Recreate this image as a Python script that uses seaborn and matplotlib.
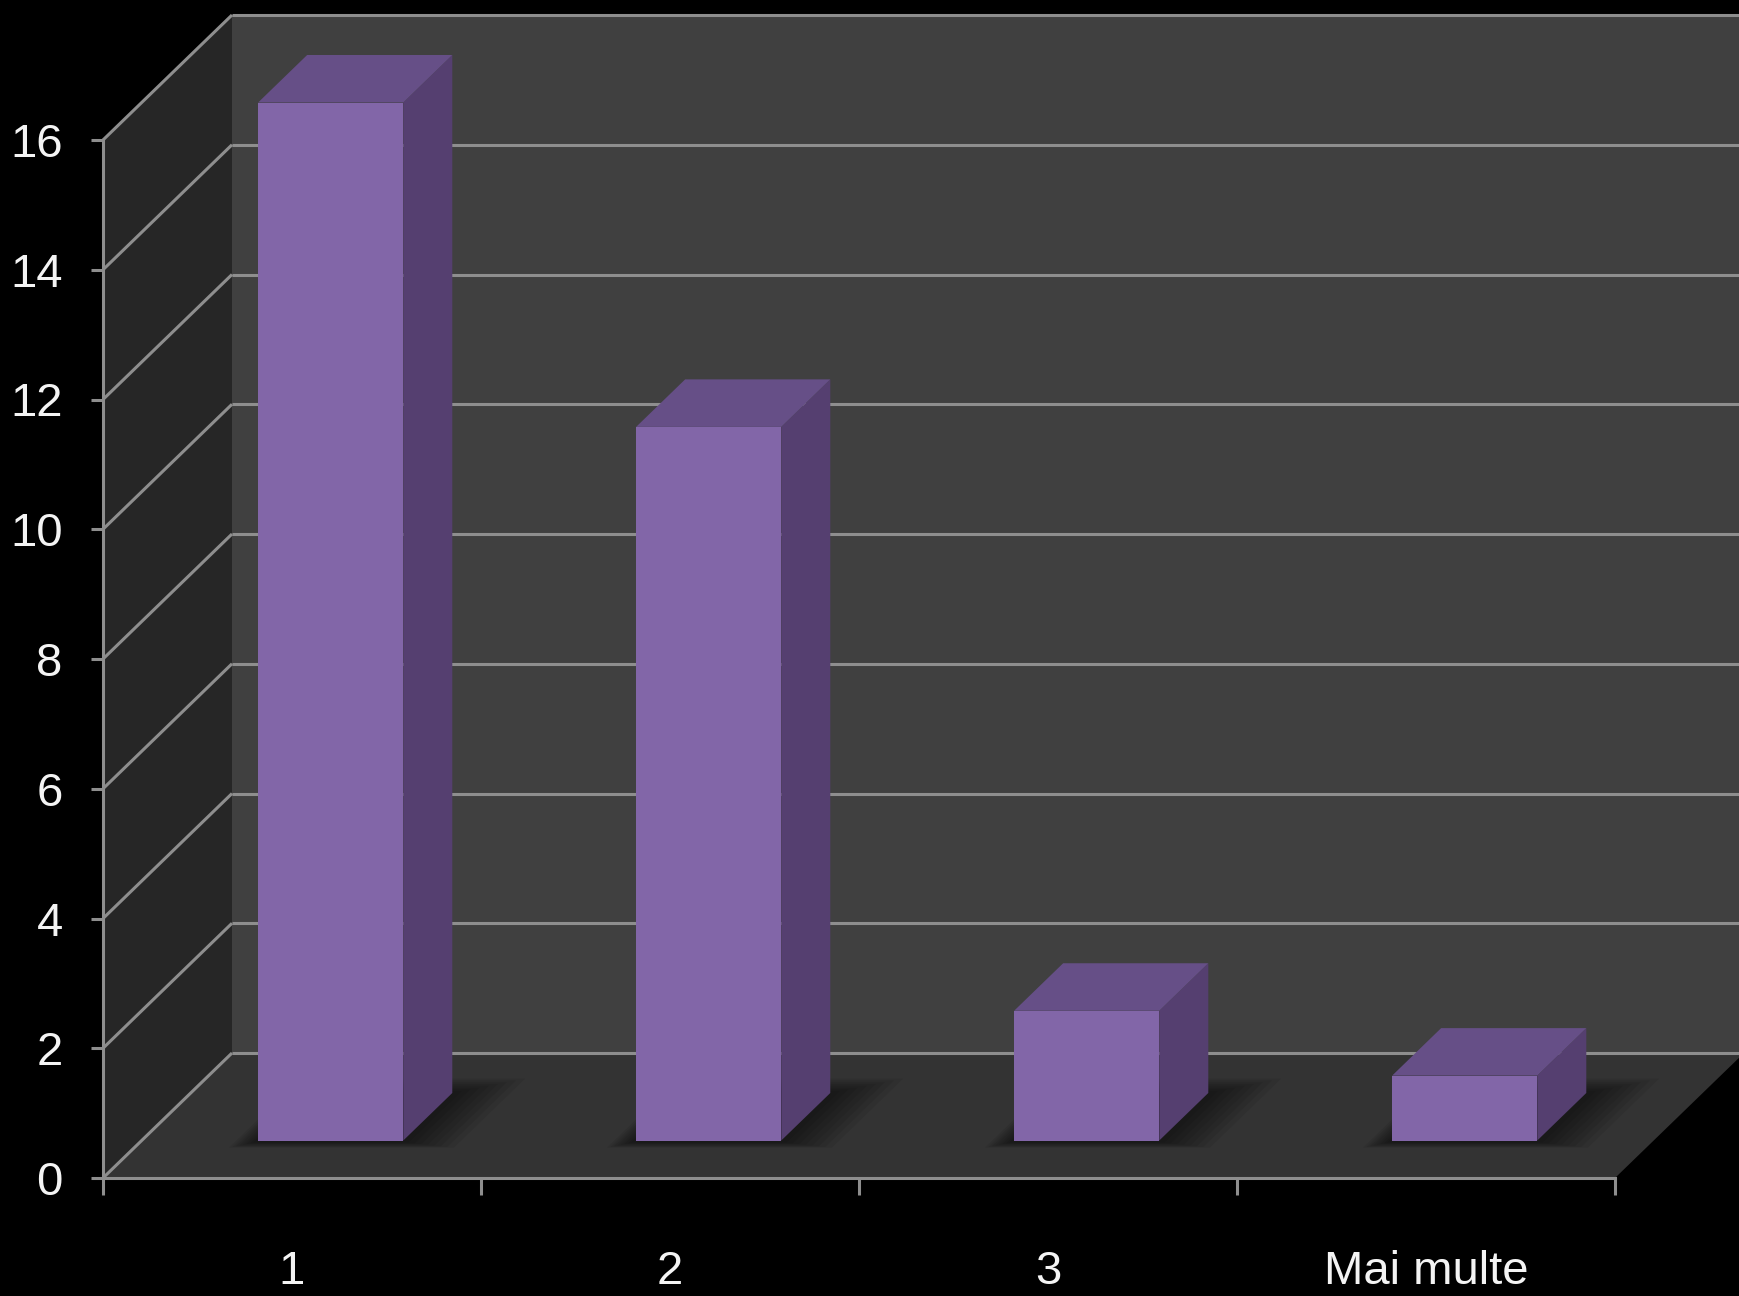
import numpy as np
import pandas as pd
import matplotlib
matplotlib.use("Agg")
import matplotlib.pyplot as plt
import seaborn as sns
from matplotlib.patches import Polygon
from matplotlib.lines import Line2D
from matplotlib.transforms import IdentityTransform, ScaledTranslation

# ---- data ----
categories = ["1", "2", "3", "Mai multe"]
values = [16, 11, 2, 1]
y_ticks = [0, 2, 4, 6, 8, 10, 12, 14, 16]

# ---- style ----
sns.set_style("dark")
plt.rcParams["font.family"] = ["Liberation Sans Narrow", "Liberation Sans", "DejaVu Sans"]

FRONT = "#8266a8"
TOP = "#664f87"
SIDE = "#553f70"
BACK_WALL = "#404040"
SIDE_WALL = "#262626"
FLOOR = "#333333"
GRID = "#8e8e8e"
TXT = "#f4f4f4"

DPI = 100
W, H = 1740, 1296
DX, DY = 129.0, 125.0      # full depth offset in pixels
F0, F1 = 0.30, 0.68        # bar depth range (fraction)

fig = plt.figure(figsize=(W / DPI, H / DPI), dpi=DPI, facecolor="black")
ax = fig.add_axes([103 / W, (H - 1178) / H, 1512 / W, 1038 / H])
ax.set_facecolor("none")

df = pd.DataFrame({"cat": categories, "val": values})
sns.barplot(data=df, x="cat", y="val", order=categories, color=FRONT,
            saturation=1, width=0.384, ax=ax, zorder=5, linewidth=0)

ax.set_xlim(-0.5, 3.5)
ax.set_ylim(0, 16)
ax.set_autoscale_on(False)
ax.set_xlabel("")
ax.set_ylabel("")

def P(x, y, d):
    p = ax.transData.transform((x, y))
    return (p[0] + d * DX, p[1] + d * DY)

def poly(pts, color, z, alpha=1.0):
    pg = Polygon(pts, closed=True, facecolor=color, edgecolor="none",
                 transform=IdentityTransform(), zorder=z, alpha=alpha, clip_on=False)
    ax.add_patch(pg)

def line(p1, p2, z=1.5, color=GRID, lw=2.2):
    ln = Line2D([p1[0], p2[0]], [p1[1], p2[1]], color=color, lw=lw,
                transform=IdentityTransform(), zorder=z, clip_on=False,
                solid_capstyle="butt")
    ax.add_line(ln)

x0, x1 = -0.5, 3.5
ymax = 16
# walls & floor
poly([P(x0, 0, 1), P(x1, 0, 1), P(x1, ymax, 1), P(x0, ymax, 1)], BACK_WALL, 0.5)
poly([P(x0, 0, 0), P(x0, ymax, 0), P(x0, ymax, 1), P(x0, 0, 1)], SIDE_WALL, 0.6)
poly([P(x0, 0, 0), P(x1, 0, 0), P(x1, 0, 1), P(x0, 0, 1)], FLOOR, 0.6)

# gridlines on back wall and left wall
for yv in y_ticks:
    line(P(x0, yv, 1), P(x1, yv, 1), z=1.0)
    line(P(x0, yv, 0), P(x0, yv, 1), z=1.0)

# bars: move front faces to depth F0 and add top / side faces
off = ScaledTranslation(F0 * DX / DPI, F0 * DY / DPI, fig.dpi_scale_trans)
for p in list(ax.patches):
    if not isinstance(p, matplotlib.patches.Rectangle):
        continue
    if p.get_height() <= 0:
        continue
    bx0 = p.get_x()
    bx1 = bx0 + p.get_width()
    h = p.get_height()
    p.set_transform(ax.transData + off)
    p.set_clip_on(False)
    # soft shadow on the floor (layered, fading outwards)
    for k in range(8):
        e = 0.012 * (8 - k)
        poly([P(bx0 - e * 0.6, 0, F0 - 0.01 - e * 0.5),
              P(bx1 + e * 1.6, 0, F0 - 0.01 - e * 0.5),
              P(bx1 + e * 1.6, 0, F1 + e * 1.2),
              P(bx0 - e * 0.6, 0, F1 + e * 1.2)],
             "black", 2 + k * 0.01, alpha=0.07)
    poly([P(bx1, 0, F0), P(bx1, 0, F1), P(bx1, h, F1), P(bx1, h, F0)], SIDE, 4)
    poly([P(bx0, h, F0), P(bx1, h, F0), P(bx1, h, F1), P(bx0, h, F1)], TOP, 4)

# axes spines / ticks
for s in ["top", "right"]:
    ax.spines[s].set_visible(False)
for s in ["left", "bottom"]:
    ax.spines[s].set_color(GRID)
    ax.spines[s].set_linewidth(2.2)
    ax.spines[s].set_zorder(6)
ax.grid(False)

ax.set_yticks(y_ticks)
ax.set_yticklabels([str(v) for v in y_ticks])
ax.tick_params(axis="y", direction="out", length=9, width=2.2, color=GRID,
               labelcolor=TXT, labelsize=34, pad=20, left=True)

ax.set_xticks(range(len(categories)))
ax.set_xticklabels(categories)
ax.set_xticks(np.arange(-0.5, len(categories), 1.0), minor=True)
ax.tick_params(axis="x", which="major", length=0, labelcolor=TXT,
               labelsize=34, pad=52)
ax.tick_params(axis="x", which="minor", direction="out", length=12,
               width=2.2, color=GRID, bottom=True)

fig.savefig("out.png", dpi=DPI, facecolor="black")
